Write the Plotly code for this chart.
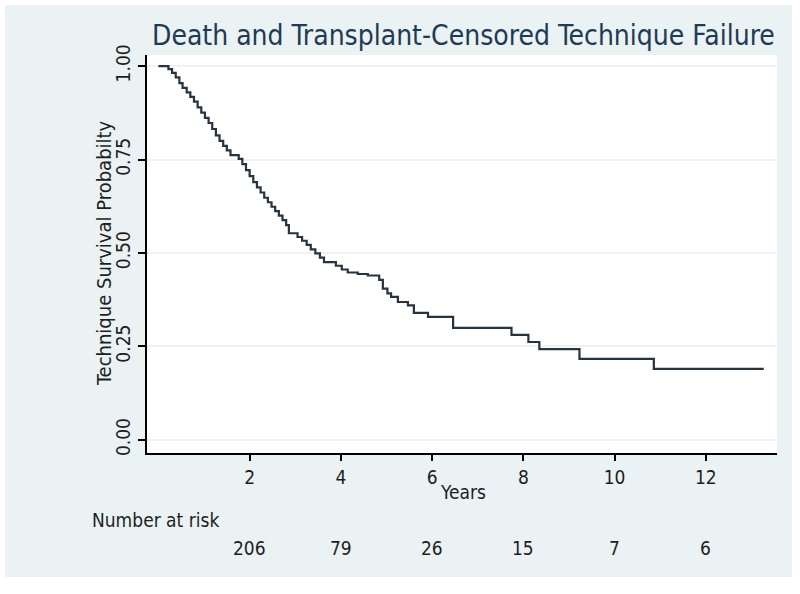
import plotly.graph_objects as go

# Kaplan-Meier step curve
times = [0, 0.22, 0.30, 0.38, 0.46, 0.53, 0.62, 0.70, 0.78, 0.86, 0.94, 1.02, 1.10, 1.18,
         1.26, 1.34, 1.42, 1.50, 1.58, 1.76, 1.84, 1.92, 2.00, 2.08, 2.16, 2.24, 2.32, 2.40,
         2.48, 2.56, 2.64, 2.72, 2.80, 2.86, 3.05, 3.15, 3.25, 3.34, 3.44, 3.54, 3.63, 3.89,
         4.02, 4.15, 4.37, 4.59, 4.84, 4.92, 5.02, 5.10, 5.25, 5.47, 5.60, 5.91, 6.46, 7.74,
         8.11, 8.35, 9.23, 10.86, 13.27]
surv = [1.000, 0.992, 0.982, 0.970, 0.955, 0.942, 0.930, 0.918, 0.905, 0.890, 0.876, 0.862,
        0.848, 0.832, 0.815, 0.800, 0.787, 0.775, 0.762, 0.752, 0.738, 0.722, 0.706, 0.690,
        0.676, 0.662, 0.648, 0.636, 0.624, 0.612, 0.600, 0.588, 0.575, 0.553, 0.543, 0.533,
        0.522, 0.510, 0.499, 0.488, 0.476, 0.466, 0.456, 0.448, 0.444, 0.440, 0.428, 0.405,
        0.392, 0.383, 0.369, 0.360, 0.340, 0.329, 0.300, 0.281, 0.262, 0.243, 0.217, 0.190,
        0.190]

x_ticks = [2, 4, 6, 8, 10, 12]
y_ticks = [0, 0.25, 0.5, 0.75, 1.0]
y_tick_labels = ["0.00", "0.25", "0.50", "0.75", "1.00"]
risk_times = [2, 4, 6, 8, 10, 12]
risk_counts = [206, 79, 26, 15, 7, 6]

title_text = "Death and Transplant-Censored Technique Failure"
x_title = "Years"
y_title = "Technique Survival Probabilty"

FONT = "Liberation Sans Narrow, Arial Narrow, DejaVu Sans Condensed, sans-serif"
BG = "#eaf2f3"
TXT = "#1e1e1e"

fig = go.Figure()
fig.add_trace(go.Scatter(x=times, y=surv, mode="lines", line_shape="hv",
                         line=dict(color="#26343f", width=2.2), showlegend=False,
                         hoverinfo="skip"))

# plot area 147..777 x 55..453 px
L, R, T, B = 147, 777, 55, 453
W, H = 800, 594
pw, ph = R - L, B - T

def px_x(p):
    return (p - L) / pw

def px_y(p):
    return (B - p) / ph

shapes = [
    dict(type="rect", xref="paper", yref="paper", x0=px_x(5), x1=px_x(792),
         y0=px_y(577), y1=px_y(5), fillcolor=BG, line=dict(width=0), layer="below"),
    dict(type="rect", xref="paper", yref="paper", x0=0, x1=1, y0=0, y1=1,
         fillcolor="white", line=dict(width=0), layer="below"),
]

annotations = [
    dict(text=title_text, xref="paper", yref="paper", x=px_x(463), y=px_y(35),
         xanchor="center", yanchor="middle", showarrow=False,
         font=dict(family=FONT, size=28, color="#1f3a56")),
    dict(text=x_title, xref="paper", yref="paper", x=px_x(463), y=px_y(492),
         xanchor="center", yanchor="middle", showarrow=False,
         font=dict(family=FONT, size=19, color=TXT)),
    dict(text=y_title, xref="paper", yref="paper", x=px_x(104), y=px_y(253),
         xanchor="center", yanchor="middle", showarrow=False, textangle=-90,
         font=dict(family=FONT, size=20, color=TXT)),
    dict(text="Number at risk", xref="paper", yref="paper", x=px_x(90), y=px_y(520),
         xanchor="left", yanchor="middle", showarrow=False,
         font=dict(family=FONT, size=19, color=TXT)),
]
for t, n in zip(risk_times, risk_counts):
    annotations.append(dict(text=str(n), xref="x", yref="paper", x=t, y=px_y(548),
                            xanchor="center", yanchor="middle", showarrow=False,
                            font=dict(family=FONT, size=19, color=TXT)))

fig.update_layout(
    width=W, height=H,
    margin=dict(l=L, r=W - R, t=T, b=H - B, pad=0),
    paper_bgcolor="white", plot_bgcolor="rgba(0,0,0,0)",
    shapes=shapes, annotations=annotations,
    xaxis=dict(range=[-0.25, 13.56], tickvals=x_ticks, ticks="outside", ticklen=6,
               tickcolor="black", tickwidth=1.5, showline=True, linecolor="black",
               linewidth=2, showgrid=False, zeroline=False,
               tickfont=dict(family=FONT, size=19, color=TXT)),
    yaxis=dict(range=[-0.035, 1.03], tickvals=y_ticks, ticktext=y_tick_labels,
               ticks="outside", ticklen=7, tickcolor="black", tickwidth=1.5,
               showline=True, linecolor="black", linewidth=2, showgrid=True,
               gridcolor="#edf2f3", gridwidth=1.5, zeroline=False, tickangle=-90,
               tickfont=dict(family=FONT, size=19, color=TXT)),
)

fig.write_html("out.html", config={"displayModeBar": False},
               post_script="document.body.style.margin='0';")
